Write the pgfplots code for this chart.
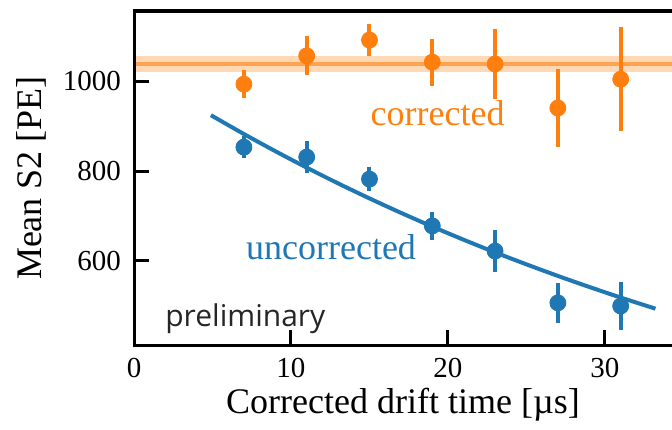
\documentclass[border=0pt]{standalone}
\usepackage{fontspec}
\setmainfont{Liberation Serif}
\newfontfamily\prelimfont{Open Sans}
\usepackage{pgfplots}
\pgfplotsset{compat=1.18}
\definecolor{tabblue}{HTML}{1F77B4}
\definecolor{taborange}{HTML}{FF7F0E}

\begin{document}
\begin{tikzpicture}
\begin{axis}[
    at={(0,0)}, anchor=south west,
    scale only axis, width=269pt, height=167pt,
    xmin=0, xmax=34.27, ymin=413.3, ymax=1155.6,
    axis line style={draw=none},
    xtick pos=lower, ytick pos=left,
    xtick={0,10,20,30}, ytick={600,800,1000},
    xticklabels={\mbox{\rmfamily 0},\mbox{\rmfamily 10},\mbox{\rmfamily 20},\mbox{\rmfamily 30}},
    yticklabels={\mbox{\rmfamily 600},\mbox{\rmfamily 800},\mbox{\rmfamily 1000}},
    tick align=inside, major tick length=7.5pt,
    tick style={line width=1.5pt, black},
    tick label style={font=\rmfamily\fontsize{14.5}{16}\selectfont},
    xticklabel style={yshift=-3pt},
    yticklabel style={xshift=-3pt},
    xlabel={Corrected drift time [µs]},
    ylabel={Mean S2 [PE]},
    label style={font=\fontsize{18}{21}\selectfont},
    xlabel style={at={(axis description cs:0.5,-0.2036)}, anchor=base},
    ylabel style={at={(axis description cs:-0.19,0.5)}, anchor=center},
    clip=false,
]
% fitted constant for corrected, with band
\addplot[draw=none, fill=taborange, fill opacity=0.3, forget plot]
    coordinates {(0,1020) (34.27,1020) (34.27,1056) (0,1056)} -- cycle;
\addplot[taborange, line width=2pt, opacity=0.6, forget plot]
    coordinates {(0,1038) (34.27,1038)};

% exponential fit to uncorrected
\addplot[tabblue, line width=2pt, smooth, no markers] coordinates {
    (4.9,924) (7,882.2) (9,844.1) (11,807.5) (13,772.5) (15,739.1)
    (17,707.1) (19,676.5) (21,647.2) (23,619.2) (25,592.5) (27,566.8)
    (29,542.3) (31,518.8) (33,496.4) (33.2,494.2)
};

\addplot[only marks, mark=*, mark size=4pt, color=taborange,
    mark options={fill=taborange, draw=taborange},
    error bars/.cd, y dir=both, y explicit, error mark=none,
    error bar style={line width=2pt, taborange}]
    coordinates {
    (7,993) +- (0,31)
    (11,1056) +- (0,43)
    (15,1091) +- (0,35)
    (19,1042) +- (0,52)
    (23,1038) +- (0,77)
    (27,940) +- (0,87)
    (31,1004) +- (0,116)
};

\addplot[only marks, mark=*, mark size=4pt, color=tabblue,
    mark options={fill=tabblue, draw=tabblue},
    error bars/.cd, y dir=both, y explicit, error mark=none,
    error bar style={line width=2pt, tabblue}]
    coordinates {
    (7,853) +- (0,25)
    (11,831) +- (0,35)
    (15,782) +- (0,27)
    (19,678) +- (0,32)
    (23,622) +- (0,47)
    (27,507) +- (0,44)
    (31,500) +- (0,53)
};

% spines: left, bottom, top (right edge is cut off)
\draw[line width=1.5pt, line join=miter]
    (rel axis cs:1,0) -- (rel axis cs:0,0) -- (rel axis cs:0,1) -- (rel axis cs:1,1);

\node[taborange, font=\fontsize{18}{21}\selectfont] at (axis cs:19.34,929) {corrected};
\node[tabblue, font=\fontsize{18}{21}\selectfont] at (axis cs:12.55,630) {uncorrected};
\node[anchor=base west, inner sep=0pt, font=\prelimfont\fontsize{15}{18}\selectfont, black!85]
    at (axis cs:1.97,454) {preliminary};
\end{axis}
\pgfresetboundingbox
\useasboundingbox (-67pt,-42pt) rectangle (269pt,172.5pt);
\end{tikzpicture}
\end{document}
